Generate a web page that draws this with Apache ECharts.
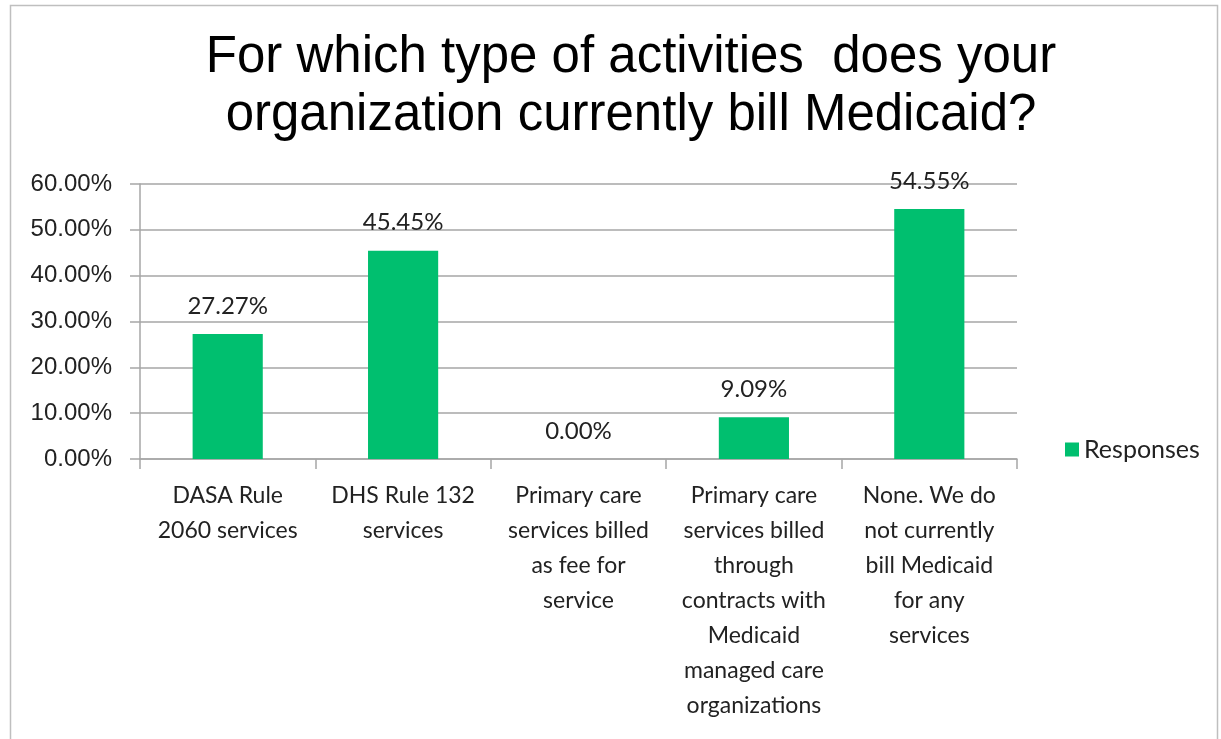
<!DOCTYPE html>
<html><head><meta charset="utf-8">
<script src="https://cdn.jsdelivr.net/npm/echarts@6/dist/echarts.min.js"></script>
<style>html,body{margin:0;padding:0;background:#fff}#c{width:1221px;height:739px}</style>
</head><body><div id="c"></div>
<script>
const titleText = "For which type of activities  does your\norganization currently bill Medicaid?";
const categories = [
  "DASA Rule\n2060 services",
  "DHS Rule 132\nservices",
  "Primary care\nservices billed\nas fee for\nservice",
  "Primary care\nservices billed\nthrough\ncontracts with\nMedicaid\nmanaged care\norganizations",
  "None. We do\nnot currently\nbill Medicaid\nfor any\nservices"
];
const responses = [27.27, 45.45, 0.00, 9.09, 54.55];
const seriesName = "Responses";
const yMin = 0, yMax = 60, yStep = 10;

const chart = echarts.init(document.getElementById('c'), null, {renderer: 'canvas'});
chart.setOption({
  animation: false,
  backgroundColor: '#fff',
  graphic: [{
    type: 'rect', shape: {x: 10.5, y: 5.5, width: 1207, height: 760},
    style: {fill: 'none', stroke: '#BFBFBF', lineWidth: 1.5}, silent: true, z: -1
  }],
  title: {
    text: titleText, left: 626, top: 24, textAlign: 'center',
    textStyle: {fontFamily: 'Liberation Sans, Arial', fontSize: 51, fontWeight: 'normal', color: '#000', lineHeight: 58}
  },
  legend: {
    data: [seriesName], orient: 'vertical', left: 1060, top: 432,
    itemWidth: 14, itemHeight: 14, itemGap: 8,
    textStyle: {fontFamily: 'Lato', fontSize: 25, color: '#222'},
    icon: 'rect'
  },
  grid: {left: 140, right: 204, top: 184, bottom: 280, containLabel: false},
  xAxis: {
    type: 'category', data: categories,
    axisLine: {show: true, lineStyle: {color: '#A6A6A6', width: 1.5}},
    axisTick: {show: true, length: 10, alignWithLabel: false, lineStyle: {color: '#A6A6A6', width: 1.5}},
    axisLabel: {interval: 0, margin: 19, fontFamily: 'Lato', fontSize: 23, color: '#222', lineHeight: 35, align: 'center'}
  },
  yAxis: {
    type: 'value', min: yMin, max: yMax, interval: yStep,
    axisLine: {show: true, lineStyle: {color: '#A6A6A6', width: 1.5}},
    axisTick: {show: true, length: 10, lineStyle: {color: '#A6A6A6', width: 1.5}},
    splitLine: {show: true, lineStyle: {color: '#A6A6A6', width: 1.5}},
    axisLabel: {margin: 28, fontFamily: 'Liberation Sans, Arial', fontSize: 24, color: '#222',
      formatter: v => v.toFixed(2) + '%'}
  },
  series: [{
    name: seriesName, type: 'bar', data: responses, barWidth: '40%',
    itemStyle: {color: '#00BF6F'},
    label: {show: true, position: 'top', distance: 16, fontFamily: 'Lato', fontSize: 24, color: '#222',
      formatter: p => p.value.toFixed(2) + '%'}
  }]
});
</script></body></html>
